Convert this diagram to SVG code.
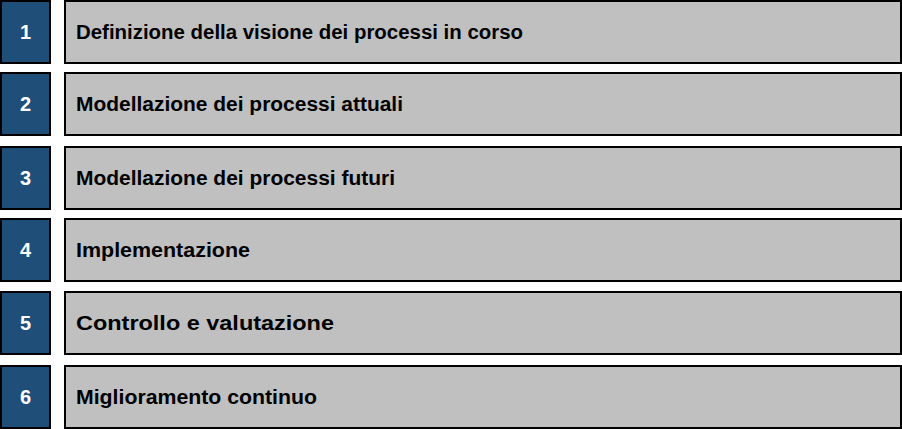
<svg xmlns="http://www.w3.org/2000/svg" width="902" height="429" viewBox="0 0 902 429">
<style>
.num{fill:#1F4E79;stroke:#000;stroke-width:2}
.bar{fill:#C0C0C0;stroke:#000;stroke-width:2}
.nt{font-family:"Liberation Sans",Arial,sans-serif;font-weight:bold;font-size:20px;fill:#fff;text-anchor:middle}
.lt{font-family:"Liberation Sans",Arial,sans-serif;font-weight:bold;font-size:20px;fill:#000}
</style>
<rect width="902" height="429" fill="#fff"/>
<g id="step1">
<rect class="num" x="1" y="1" width="49" height="62"/>
<rect class="bar" x="65" y="1" width="836" height="62"/>
<text class="nt" x="25.5" y="39">1</text>
<text class="lt" x="76" y="39" textLength="447" lengthAdjust="spacingAndGlyphs">Definizione della visione dei processi in corso</text>
</g>
<g id="step2">
<rect class="num" x="1" y="73" width="49" height="62"/>
<rect class="bar" x="65" y="73" width="836" height="62"/>
<text class="nt" x="25.5" y="111">2</text>
<text class="lt" x="76" y="111" textLength="327" lengthAdjust="spacingAndGlyphs">Modellazione dei processi attuali</text>
</g>
<g id="step3">
<rect class="num" x="1" y="147" width="49" height="62"/>
<rect class="bar" x="65" y="147" width="836" height="62"/>
<text class="nt" x="25.5" y="185">3</text>
<text class="lt" x="76" y="185" textLength="319" lengthAdjust="spacingAndGlyphs">Modellazione dei processi futuri</text>
</g>
<g id="step4">
<rect class="num" x="1" y="219" width="49" height="62"/>
<rect class="bar" x="65" y="219" width="836" height="62"/>
<text class="nt" x="25.5" y="257">4</text>
<text class="lt" x="76" y="257" textLength="174" lengthAdjust="spacingAndGlyphs">Implementazione</text>
</g>
<g id="step5">
<rect class="num" x="1" y="292" width="49" height="62"/>
<rect class="bar" x="65" y="292" width="836" height="62"/>
<text class="nt" x="25.5" y="330">5</text>
<text class="lt" x="76" y="330" textLength="258" lengthAdjust="spacingAndGlyphs">Controllo e valutazione</text>
</g>
<g id="step6">
<rect class="num" x="1" y="366" width="49" height="62"/>
<rect class="bar" x="65" y="366" width="836" height="62"/>
<text class="nt" x="25.5" y="404">6</text>
<text class="lt" x="76" y="404" textLength="241" lengthAdjust="spacingAndGlyphs">Miglioramento continuo</text>
</g>
<g id="connectors"></g>
</svg>
